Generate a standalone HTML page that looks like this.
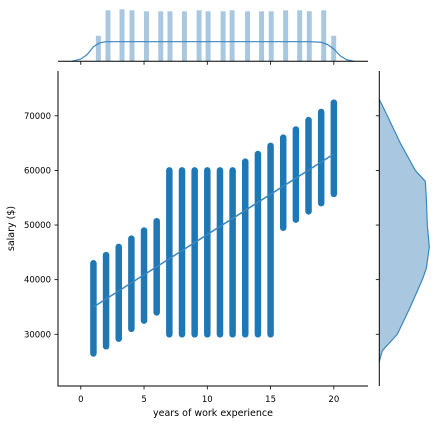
<!DOCTYPE html>
<html><head><meta charset="utf-8"><style>
html,body{margin:0;padding:0;background:#fff;}
svg{display:block;font-family:"DejaVu Sans","Liberation Sans",sans-serif;}
</style></head><body>
<svg id="chart" width="439" height="424" viewBox="0 0 439 424" xmlns="http://www.w3.org/2000/svg">
<g id="topm"></g>
<g id="rightm"></g>
<g id="mainp"></g>
</svg>
<script>
const years = [1,2,3,4,5,6,7,8,9,10,11,12,13,14,15,16,17,18,19,20];
const salaryMin = [26500,27800,29200,31000,32500,34000,30000,30000,30000,30000,30000,30000,30000,30000,30000,49500,51000,52500,54000,55700];
const salaryMax = [43000,44500,46000,47500,49000,50700,60000,60000,60000,60000,60000,60000,61600,63000,64500,66000,67500,69200,70700,72400];
const regStart = [1,35000];
const regEnd = [20,63000];
const xTicks = [0,5,10,15,20];
const yTicks = [30000,40000,50000,60000,70000];
const histCenters = [1.39,2.15,3.26,4.05,5.19,6.32,7.05,8.19,9.35,10.06,11.25,11.96,13.18,14.29,15.05,16.19,17.3,18.06,19.2,19.99];
const histCounts = [50,100,102,100,98,98,98,98,100,98,98,100,98,98,98,100,100,98,100,50];
const topKdeX = [-0.7,0,0.5,1,1.5,2,3,10,18,19,19.5,20,20.5,21,21.6];
const topKdeY = [0,4,12,26,33,35,35,35,35,34,30,22,10,3,0];
const rightKdeY = [25000,27000,30000,35000,40000,42000,46000,50000,55000,58000,60000,65000,70000,73000];
const rightKdeD = [0,3,18,31,43,47,50,48,47,46,36,21,8,0];

const NS="http://www.w3.org/2000/svg";
function mk(parent,tag,attrs){const e=document.createElementNS(NS,tag);for(const k in attrs)e.setAttribute(k,attrs[k]);parent.appendChild(e);return e;}
const L=58,R=368,T=71,B=386;
const xmin=-1.8,xmax=22.7,ymin=20530,ymax=78200;
const sx=v=>L+(v-xmin)/(xmax-xmin)*(R-L);
const sy=v=>B-(v-ymin)/(ymax-ymin)*(B-T);
const mainG=document.getElementById('mainp');
const blue="#1f77b4";
years.forEach((yr,i)=>{
  const ln=mk(mainG,'line',{x1:sx(yr),x2:sx(yr),y1:sy(salaryMin[i]),y2:sy(salaryMax[i]),stroke:blue,'stroke-width':6.5,'stroke-linecap':'round'});
  
  
});
const rl=mk(mainG,'line',{x1:sx(regStart[0]),y1:sy(regStart[1]),x2:sx(regEnd[0]),y2:sy(regEnd[1]),stroke:'#3a87bf','stroke-width':1.5});


const ax=mk(mainG,'path',{d:`M${L},${T}V${B}H${R}`,fill:'none',stroke:'#000','stroke-width':1});


xTicks.forEach(t=>{
  mk(mainG,'line',{x1:sx(t),x2:sx(t),y1:B,y2:B+3.5,stroke:'#000','stroke-width':0.8});
  const tx=mk(mainG,'text',{x:sx(t),y:B+16,'font-size':8.5,'text-anchor':'middle',fill:'#000'});
  tx.textContent=t;
  
  
});
yTicks.forEach(t=>{
  mk(mainG,'line',{x1:L-3.5,x2:L,y1:sy(t),y2:sy(t),stroke:'#000','stroke-width':0.8});
  const tx=mk(mainG,'text',{x:L-7,y:sy(t)+3,'font-size':8.5,'text-anchor':'end',fill:'#000'});
  tx.textContent=t;
  
  
});
const xl=mk(mainG,'text',{x:(L+R)/2,y:416,'font-size':9.5,'text-anchor':'middle',fill:'#000'});
xl.textContent='years of work experience';


const yl=mk(mainG,'text',{x:0,y:0,'font-size':9.5,'text-anchor':'middle',fill:'#000',transform:`translate(14,${(T+B)/2}) rotate(-90)`});
yl.textContent='salary ($)';



const topG=document.getElementById('topm');
const tb=61.3, hmaxPx=51/100;
histCenters.forEach((c,i)=>{
  const h=histCounts[i]*hmaxPx;
  const r=mk(topG,'rect',{x:sx(c)-2.5,y:tb-h,width:5,height:h,fill:'#a9c8e0'});
  
  
});
let d='';
topKdeX.forEach((v,i)=>{d+=(i?'L':'M')+sx(v)+','+(tb-topKdeY[i]*19.6/35);});
const tk=mk(topG,'path',{d:d,fill:'none',stroke:'#3a87bf','stroke-width':1.2,'stroke-linejoin':'round'});


const ta=mk(topG,'line',{x1:L,x2:R,y1:tb,y2:tb,stroke:'#000','stroke-width':1});


xTicks.forEach(t=>mk(topG,'line',{x1:sx(t),x2:sx(t),y1:tb,y2:tb+3.5,stroke:'#000','stroke-width':0.8}));

const rightG=document.getElementById('rightm');
const rx=379.3;
let pts='';
rightKdeY.forEach((v,i)=>{pts+=(i?'L':'M')+(rx+rightKdeD[i])+','+sy(v);});
const rf=mk(rightG,'path',{d:pts+'Z',fill:'#a9c8e0',stroke:'none'});


const rk=mk(rightG,'path',{d:pts,fill:'none',stroke:'#3a87bf','stroke-width':1.2,'stroke-linejoin':'round'});


const ra=mk(rightG,'line',{x1:rx,x2:rx,y1:T,y2:B,stroke:'#000','stroke-width':1});


yTicks.forEach(t=>mk(rightG,'line',{x1:rx-3.5,x2:rx,y1:sy(t),y2:sy(t),stroke:'#000','stroke-width':0.8}));
</script>
</body></html>
